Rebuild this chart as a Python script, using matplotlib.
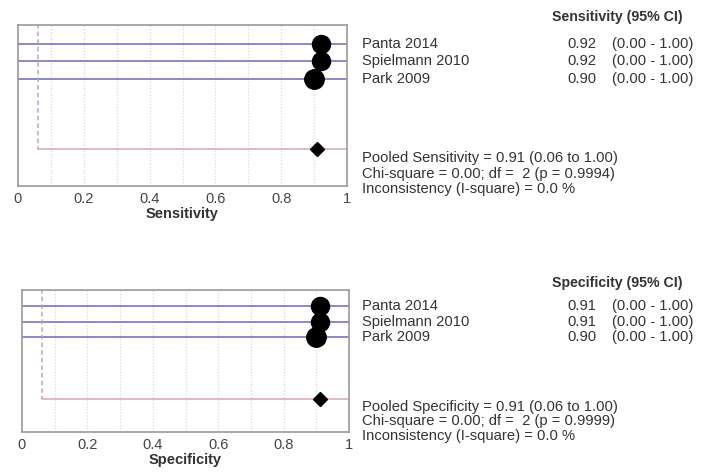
import numpy as np
import matplotlib
matplotlib.use("Agg")
import matplotlib.pyplot as plt
import matplotlib.transforms as mtransforms

plt.rcParams['font.family'] = ['Liberation Sans', 'DejaVu Sans']

studies = ["Panta 2014", "Spielmann 2010", "Park 2009"]

sens = [0.92, 0.92, 0.90]
sens_lo = [0.00, 0.00, 0.00]
sens_hi = [1.00, 1.00, 1.00]
sens_size = [13, 13, 14]
sens_pooled = [0.91, 0.06, 1.00]
sens_stats = ["Pooled Sensitivity = 0.91 (0.06 to 1.00)",
              "Chi-square = 0.00; df =  2 (p = 0.9994)",
              "Inconsistency (I-square) = 0.0 %"]

spec = [0.91, 0.91, 0.90]
spec_lo = [0.00, 0.00, 0.00]
spec_hi = [1.00, 1.00, 1.00]
spec_size = [13, 13, 14]
spec_pooled = [0.91, 0.06, 1.00]
spec_stats = ["Pooled Specificity = 0.91 (0.06 to 1.00)",
              "Chi-square = 0.00; df =  2 (p = 0.9999)",
              "Inconsistency (I-square) = 0.0 %"]

W, H = 708, 472
fig = plt.figure(figsize=(W / 100, H / 100), dpi=100)

txt_col = '#333333'
fs = 10.6


def px(x, y):
    return x / W, 1 - y / H


def forest(rect, est, lo, hi, sizes, pooled, name, stats, head_y, stat_y):
    l, t, r, b = rect
    ax = fig.add_axes([l / W, 1 - b / H, (r - l) / W, (b - t) / H])
    ys = np.arange(1, len(est) + 1)
    pool_y = 7
    for g in np.arange(0.1, 1.0, 0.1):
        ax.axvline(g, color='#d8d8d8', lw=0.9, ls=(0, (1, 1.5)), zorder=0)
    for y, e, a, c, s in zip(ys, est, lo, hi, sizes):
        ax.plot([a, c], [y, y], color='#6a6ab8', lw=1.1, zorder=2)
        ax.plot(e, y, 'o', color='black', ms=s, zorder=3)
    ax.plot([pooled[1], pooled[2]], [pool_y, pool_y], color='#d4a8b0', lw=1.1, zorder=2)
    ax.plot([pooled[1], pooled[1]], [-0.1, pool_y], color='#c0a0c8', lw=1.1,
            ls=(0, (3, 2)), zorder=2)
    ax.plot(pooled[0], pool_y, 'D', color='black', ms=7, zorder=3)
    ax.set_xlim(0, 1)
    ax.set_ylim(9.12, -0.06)
    ax.set_yticks([])
    ax.set_xticks([0, 0.2, 0.4, 0.6, 0.8, 1])
    ax.set_xticklabels(['0', '0.2', '0.4', '0.6', '0.8', '1'])
    ax.tick_params(axis='x', length=0, labelsize=10.5, colors='#444444', pad=4)
    for sp in ax.spines.values():
        sp.set_color('#9a9a9a')
        sp.set_linewidth(1.2)
    ax.set_xlabel(name, fontsize=10.5, fontweight='bold', color='#333333', labelpad=1)

    tr = mtransforms.blended_transform_factory(fig.transFigure, ax.transData)
    fig.text(*px(552, head_y), name + " (95% CI)", fontsize=10.2, fontweight='bold',
             color=txt_col, va='center', ha='left')
    for y, s, e, a, c in zip(ys, studies, est, lo, hi):
        fig.text(362 / W, y, s, transform=tr, fontsize=fs, color=txt_col, va='center')
        fig.text(567 / W, y, "%.2f" % e, transform=tr, fontsize=fs, color=txt_col, va='center')
        fig.text(612 / W, y, "(%.2f - %.2f)" % (a, c), transform=tr, fontsize=fs,
                 color=txt_col, va='center')
    for yy, s in zip(stat_y, stats):
        fig.text(*px(362, yy), s, fontsize=fs, color=txt_col, va='center', ha='left')
    return ax


forest((18, 25, 347, 186), sens, sens_lo, sens_hi, sens_size, sens_pooled,
       "Sensitivity", sens_stats, 17, [158, 174, 189])
forest((22, 290, 349, 432), spec, spec_lo, spec_hi, spec_size, spec_pooled,
       "Specificity", spec_stats, 283, [407, 421, 436])

fig.savefig("out.png", dpi=100)
